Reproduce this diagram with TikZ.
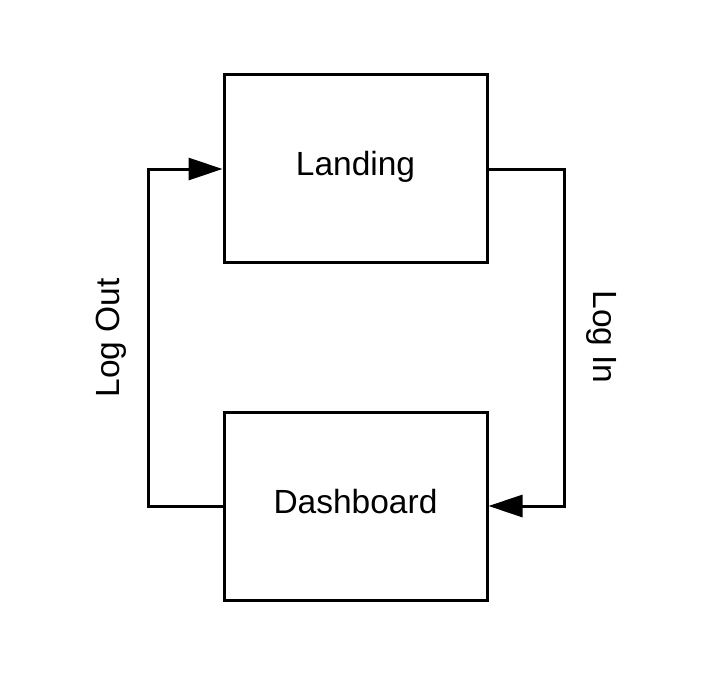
\documentclass[tikz,border=0pt]{standalone}
\usepackage{fontspec}
\setmainfont{Liberation Sans}
\usetikzlibrary{arrows.meta}
\begin{document}
\begin{tikzpicture}[x=1pt,y=-1pt,
  screen/.style={draw=black, line width=3pt, minimum width=263pt, minimum height=188pt, inner sep=0pt, text height=22pt, text depth=8pt, font=\fontsize{33.5}{36}\selectfont},
  flow/.style={draw=black, line width=3pt, -{Triangle[length=34pt,width=22pt]}},
  lbl/.style={font=\fontsize{33.5}{36}\selectfont, inner sep=0pt, anchor=base}]
\useasboundingbox (0,0) rectangle (713,675);
\node[screen] (landing) at (355.5,168) {Landing};
\node[screen] (dash) at (355.5,506) {Dashboard};
\coordinate (lt) at (148,169);
\coordinate (lb) at (148,506);
\coordinate (rt) at (564,169);
\coordinate (rb) at (564,506);
\draw[flow] (dash.west |- lb) -- (lb) -- (lt) -- (landing.west |- lt);
\draw[flow] (landing.east |- rt) -- (rt) -- (rb) -- (dash.east |- rb);
\node[lbl, rotate=90] (logout) at (119.5,338) {Log Out};
\node[lbl, rotate=-90] (login) at (593,337) {Log In};
\end{tikzpicture}
\end{document}
